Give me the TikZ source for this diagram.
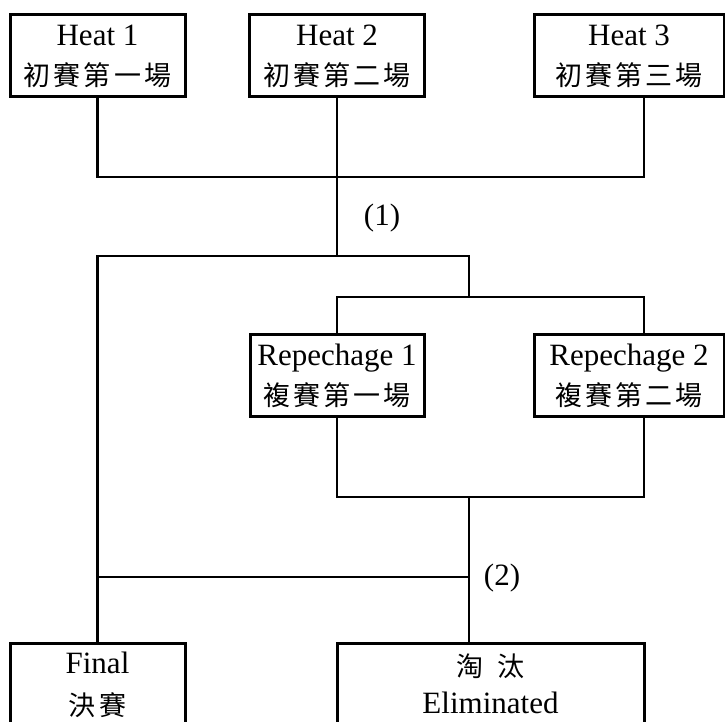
\documentclass[tikz,border=0pt]{standalone}
\usepackage{fontspec}
\setmainfont{Liberation Serif}
\newfontfamily\cjkfont{Noto Sans CJK TC}[LetterSpace=12]
\newcommand{\zh}[1]{{\cjkfont\fontsize{27}{40}\selectfont #1}}
\tikzset{
  box/.style={draw, line width=3pt, align=center, inner sep=0pt, minimum height=82pt, font=\fontsize{31}{40}\selectfont},
  conn/.style={line width=2.6pt, line join=miter},
  lbl/.style={font=\fontsize{31}{34}\selectfont, inner sep=0pt}
}
\begin{document}
\begin{tikzpicture}[x=1pt,y=-1pt]
\useasboundingbox (0,0) rectangle (725,722);
\clip (0,0) rectangle (725,722);
\fill[white] (0,0) rectangle (725,722);
\node[box, minimum width=175pt] (h1) at (97.5,56) {Heat 1\\\zh{初賽第一場}};
\node[box, minimum width=175pt] (h2) at (337,56) {Heat 2\\\zh{初賽第二場}};
\node[box, minimum width=190pt] (h3) at (629,56) {Heat 3\\\zh{初賽第三場}};
\node[box, minimum width=174pt] (r1) at (337,375.5) {Repechage 1\\\zh{複賽第一場}};
\node[box, minimum width=190pt] (r2) at (629,375.5) {Repechage 2\\\zh{複賽第二場}};
\node[box, minimum width=175pt, text depth=0pt] (fin) at (97.5,684) {Final\\[2pt]\zh{決賽}};
\node[box, minimum width=307pt] (elim) at (490.5,684) {\zh{淘\hspace{14pt}汰}\\[-3pt]Eliminated};
\coordinate (j1) at (337,177);
\coordinate (j2) at (337,256);
\coordinate (j3) at (469,297);
\coordinate (j4) at (469,497);
\coordinate (j5) at (469,577);
\draw[conn] (h1.south) |- (j1) -| ([xshift=15pt]h3.south);
\draw[conn] (h2.south) -- (j1) -- (j2);
\draw[conn] (fin.north) |- (j3 |- j2) -- (j3);
\draw[conn] (r1.north) |- (j3) -| ([xshift=15pt]r2.north);
\draw[conn] (r1.south) |- (j4) -| ([xshift=15pt]r2.south);
\draw[conn] (j4) -- (elim.north -| j4);
\draw[conn] (fin.north |- j5) -- (j5);
\node[lbl] (l1) at (382,218) {(1)};
\node[lbl] (l2) at (502,578) {(2)};
\end{tikzpicture}
\end{document}
